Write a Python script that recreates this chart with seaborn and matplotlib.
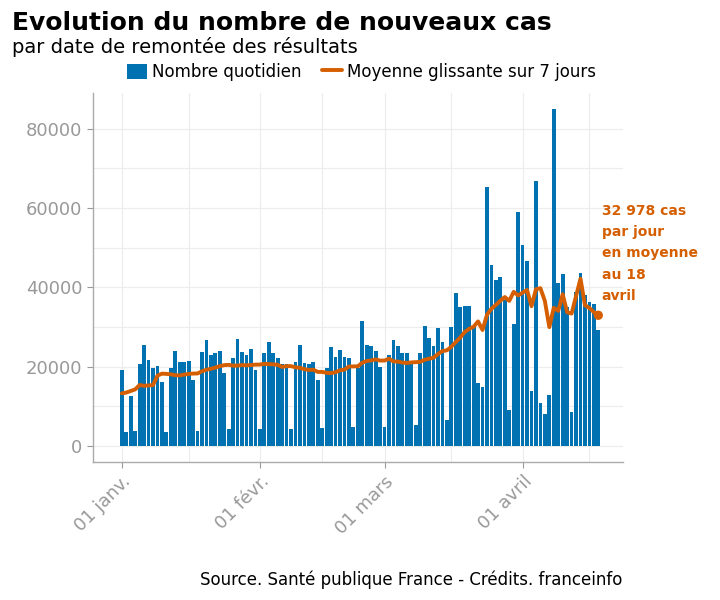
import pandas as pd
import numpy as np
import matplotlib
matplotlib.use("Agg")
import matplotlib.pyplot as plt
import matplotlib.dates as mdates
from matplotlib.patches import Patch
from matplotlib.lines import Line2D
from matplotlib.ticker import FixedLocator, MultipleLocator
import seaborn as sns

# Nouveaux cas quotidiens, du 1er janvier au 18 avril 2021
dates = pd.date_range("2021-01-01", "2021-04-18", freq="D")

cas_janv = [19300, 3500, 12600, 3900, 20600, 25500, 21700, 19800, 20200, 16100,
            3600, 19800, 23900, 21300, 21300, 21400, 16700, 3800, 23600, 26700,
            22900, 23400, 24000, 18500, 4300, 22100, 26900, 23800, 23000, 24400,
            19300]
cas_fevr = [4400, 23400, 26300, 23500, 22100, 20700, 20700, 4400, 21300, 25500,
            21000, 20700, 21300, 16700, 4500, 19600, 25100, 22500, 24200, 22400,
            22100, 4700, 19800, 31500, 25500, 25300, 24100, 20000]
cas_mars = [4800, 23000, 26700, 25300, 23500, 23400, 21000, 5300, 23400, 30400,
            27200, 25300, 29800, 26300, 6600, 29900, 38500, 35100, 35200, 35300,
            30200, 15800, 14800, 65400, 45700, 41900, 42600, 36800, 9100, 30700,
            59000]
cas_avril = [50600, 46700, 14000, 66800, 10800, 8100, 12900, 84900, 41200, 43300,
             35000, 8500, 38900, 43600, 38100, 36400, 35800, 29300]

# Moyenne glissante sur 7 jours
moy_janv = [13300, 13500, 13900, 14300, 15400, 15200, 15300, 15370, 17760, 18260,
            18210, 18100, 17870, 17810, 18030, 18200, 18290, 18310, 18860, 19260,
            19490, 19790, 20160, 20410, 20490, 20270, 20300, 20430, 20370, 20430,
            20540]
moy_fevr = [20560, 20740, 20660, 20610, 20490, 19960, 20160, 20160, 19860, 19740,
            19390, 19190, 19270, 18700, 18710, 18470, 18410, 18630, 19130, 19290,
            20060, 20090, 20110, 21030, 21460, 21610, 21860, 21560]
moy_mars = [21570, 22030, 21340, 21310, 21060, 20960, 21100, 21170, 21230, 21760,
            22030, 22290, 23200, 23960, 24140, 25070, 26230, 27360, 28770, 29560,
            30110, 31430, 29270, 33110, 34630, 35590, 36630, 37570, 36610, 38890,
            37970]
moy_avril = [38670, 39360, 35270, 39560, 39800, 36570, 29990, 34890, 34100, 38290,
             33740, 33410, 37810, 42200, 35510, 34830, 33760, 32978]

mois_ticks = ["2021-01-01", "2021-02-01", "2021-03-01", "2021-04-01"]
mois_labels = ["01 janv.", "01 févr.", "01 mars", "01 avril"]
mois_mineurs = ["2021-01-16", "2021-02-15", "2021-03-16", "2021-04-16"]

df = pd.DataFrame({
    "date": dates,
    "cas": cas_janv + cas_fevr + cas_mars + cas_avril,
    "moyenne": moy_janv + moy_fevr + moy_mars + moy_avril,
})
df["x"] = mdates.date2num(df["date"])

BLEU = "#0072B2"
ORANGE = "#D55E00"
GRIS = "#999999"

sns.set_theme(style="white")
plt.rcParams["font.family"] = ["DejaVu Sans"]
plt.rcParams["text.color"] = "black"

fig = plt.figure(figsize=(7.2, 6), dpi=100)
ax = fig.add_axes([0.129, 0.23, 0.736, 0.615])

sns.barplot(data=df, x="x", y="cas", native_scale=True, color=BLEU,
            width=0.85, errorbar=None, saturation=1, edgecolor="none", ax=ax)
sns.lineplot(data=df, x="x", y="moyenne", color=ORANGE, linewidth=2.8, ax=ax)
dernier = df.iloc[[-1]]
sns.scatterplot(data=dernier, x="x", y="moyenne", color=ORANGE, s=45,
                edgecolor="none", ax=ax, zorder=5)

# axes
x0 = mdates.date2num(pd.Timestamp("2020-12-25"))
x1 = mdates.date2num(pd.Timestamp("2021-04-23"))
ax.set_xlim(x0 + 0.5, x1 + 0.5)
ax.set_ylim(-4000, 89000)
ax.yaxis.set_major_locator(FixedLocator([0, 20000, 40000, 60000, 80000]))
ax.yaxis.set_minor_locator(MultipleLocator(10000))
ax.xaxis.set_major_locator(FixedLocator(mdates.date2num(pd.to_datetime(mois_ticks))))
ax.xaxis.set_minor_locator(FixedLocator(mdates.date2num(pd.to_datetime(mois_mineurs))))
ax.set_xticklabels(mois_labels, rotation=45, ha="right", rotation_mode="anchor")
ax.set_xlabel("")
ax.set_ylabel("")
ax.grid(which="both", color="#ececec", linewidth=0.8)
ax.set_axisbelow(True)
ax.tick_params(axis="both", which="major", labelsize=13, labelcolor=GRIS,
               color=GRIS, length=4, width=0.8, left=True, bottom=True)
ax.tick_params(axis="both", which="minor", length=0)
for s in ["top", "right"]:
    ax.spines[s].set_visible(False)
for s in ["left", "bottom"]:
    ax.spines[s].set_color("#aaaaaa")
    ax.spines[s].set_linewidth(1)

# annotation
ax.text(dernier["x"].iloc[0] + 0.8, 61000,
        "32 978 cas\npar jour\nen moyenne\nau 18\navril",
        color=ORANGE, fontsize=10, fontweight="bold", va="top", ha="left",
        linespacing=1.65, clip_on=False)

# titres
fig.text(0.017, 0.962, "Evolution du nombre de nouveaux cas", fontsize=18,
         fontweight="bold", va="center", ha="left", color="black")
fig.text(0.017, 0.921, "par date de remontée des résultats", fontsize=14,
         va="center", ha="left", color="black")

handles = [Patch(facecolor=BLEU, edgecolor="none"),
           Line2D([0], [0], color=ORANGE, linewidth=2.8)]
fig.legend(handles, ["Nombre quotidien", "Moyenne glissante sur 7 jours"],
           loc="center", bbox_to_anchor=(0.502, 0.88), ncol=2, frameon=False,
           fontsize=12, handlelength=1.2, handleheight=1.0, columnspacing=1.2,
           handletextpad=0.3, labelcolor="black")

fig.text(0.865, 0.033, "Source. Santé publique France - Crédits. franceinfo",
         fontsize=12, ha="right", va="center", color="black")

fig.savefig("out.png", dpi=100)
